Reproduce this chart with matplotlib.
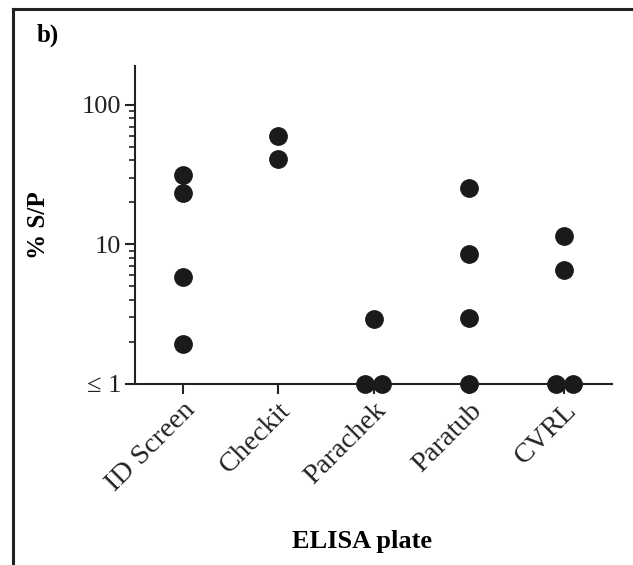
import matplotlib.pyplot as plt
from matplotlib.lines import Line2D
from matplotlib.ticker import FixedLocator, NullFormatter
import numpy as np

plt.rcParams['font.family'] = ['Liberation Serif', 'DejaVu Serif']

plates = ['ID Screen', 'Checkit', 'Parachek', 'Paratub', 'CVRL']
# % S/P values per plate (values at or below 1 are shown on the "<= 1" line)
id_screen = [31.5, 23.5, 5.8, 1.95]
checkit = [60, 41]
parachek = [2.9, 1, 1]
paratub = [25.5, 8.6, 2.95, 1]
cvrl = [11.4, 6.6, 1, 1]
groups = [id_screen, checkit, parachek, paratub, cvrl]

fig = plt.figure(figsize=(6.33, 5.65), dpi=100)
ax = fig.add_axes([0.2133, 0.3204, 0.7535, 0.5628])

spread = 0.09
for i, vals in enumerate(groups):
    vals = np.array(vals, dtype=float)
    xs = np.full(len(vals), float(i))
    # spread out points that share the same value
    for v in np.unique(vals):
        idx = np.where(vals == v)[0]
        if len(idx) > 1:
            xs[idx] = i + np.linspace(-spread, spread, len(idx))
    ax.plot(xs, vals, 'o', color='#1a1a1a', ms=12.5, clip_on=False, zorder=3)

ax.set_yscale('log')
ax.set_ylim(1, 190)
ax.set_xlim(-0.5, 4.5)
ax.yaxis.set_major_locator(FixedLocator([1, 10, 100]))
ax.set_yticklabels(['\u2264 1', '10', '100'])
# minor ticks only between 1 and 100
ax.yaxis.set_minor_locator(FixedLocator([v * d for d in [1, 10] for v in range(2, 10)]))
ax.yaxis.set_minor_formatter(NullFormatter())
ax.set_xticks(range(len(plates)))
ax.set_xticklabels(plates, rotation=45, ha='right', rotation_mode='anchor', fontsize=20.5)

for s in ['top', 'right']:
    ax.spines[s].set_visible(False)
for s in ['left', 'bottom']:
    ax.spines[s].set_linewidth(1.5)
    ax.spines[s].set_color('#222222')
ax.tick_params(which='major', direction='out', length=7, width=1.5, colors='#222222', pad=3)
ax.tick_params(axis='y', which='major', labelsize=19)
ax.tick_params(which='minor', direction='out', length=4, width=1.2, colors='#222222')

ax.set_ylabel('% S/P', fontsize=18, fontweight='bold')
ax.yaxis.set_label_coords(-0.178, 0.5)
ax.set_xlabel('ELISA plate', fontsize=19, fontweight='bold')
ax.xaxis.set_label_coords(0.476, -0.46)

fig.text(0.058, 0.938, 'b)', fontsize=18, fontweight='bold', va='center')

# panel frame: top and left edges
fig.add_artist(Line2D([0.021, 1.0], [0.984, 0.984], color='#222222', lw=2.2))
fig.add_artist(Line2D([0.021, 0.021], [0.0, 0.984], color='#222222', lw=2.2))

fig.savefig('out.png', dpi=100)
